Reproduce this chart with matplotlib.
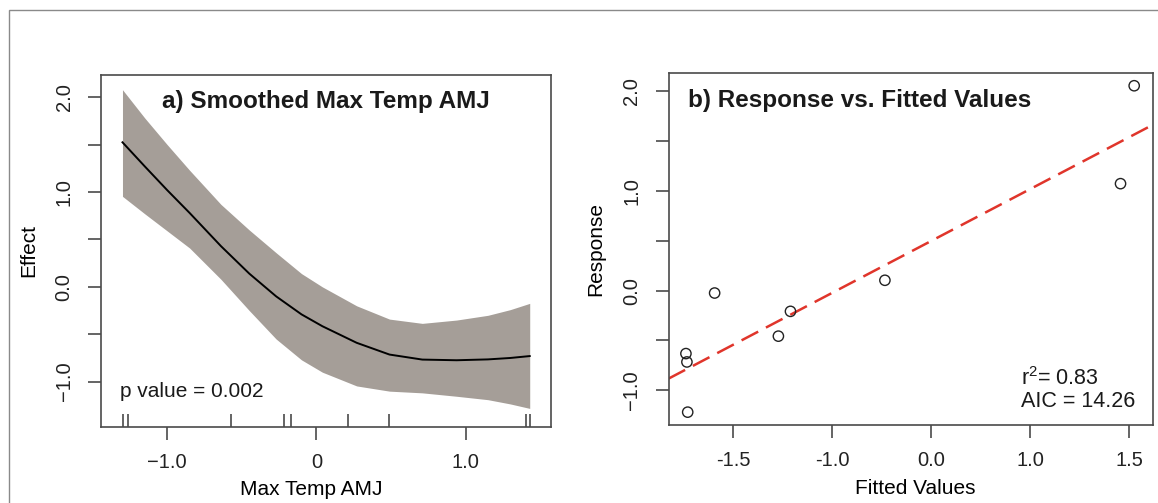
import numpy as np
import matplotlib.pyplot as plt
from matplotlib.patches import Rectangle

plt.rcParams['font.family'] = ['Liberation Sans', 'DejaVu Sans']
plt.rcParams['mathtext.fontset'] = 'custom'
plt.rcParams['mathtext.rm'] = 'Liberation Sans'

# a) smoothed effect of max temp AMJ
temp_x = [-1.30, -1.15, -1.0, -0.85, -0.64, -0.45, -0.27, -0.10, 0.04, 0.27, 0.49, 0.71, 0.94, 1.15, 1.30, 1.43]
effect_fit = [1.525, 1.27, 1.02, 0.78, 0.43, 0.14, -0.10, -0.29, -0.415, -0.59, -0.714, -0.767, -0.774,
              -0.765, -0.75, -0.73]
effect_upper = [2.08, 1.78, 1.50, 1.23, 0.87, 0.60, 0.36, 0.14, 0.0, -0.20, -0.34, -0.385, -0.35,
                -0.30, -0.24, -0.174]
effect_lower = [0.955, 0.77, 0.59, 0.41, 0.08, -0.25, -0.55, -0.77, -0.90, -1.045, -1.10, -1.118,
                -1.154, -1.19, -1.235, -1.282]
rug_x = [-1.299, -1.264, -0.571, -0.216, -0.170, 0.212, 0.490, 1.402, 1.432]

# b) response vs fitted values
fitted = [0.526, 0.457, -0.733, -1.593, -1.210, -1.271, -1.738, -1.733, -1.729]
response = [2.057, 1.074, 0.104, -0.024, -0.208, -0.457, -0.632, -0.716, -1.220]
line_intercept = 1.019
line_slope = 1.042
fitted_ticks = [-1.5, -1.0, -0.5, 0.0, 0.5]
fitted_ticklabels = ['-1.5', '-1.0', '0.0', '1.0', '1.5']

y_ticks = [-1.0, -0.5, 0.0, 0.5, 1.0, 1.5, 2.0]
y_ticklabels = ['\u22121.0', '', '0.0', '', '1.0', '', '2.0']

W, H = 1158, 503
fig = plt.figure(figsize=(W / 100, H / 100), dpi=100)


def add_px_axes(l, t, r, b):
    return fig.add_axes([l / W, 1 - b / H, (r - l) / W, (b - t) / H])


# outer frame of the original figure
fig.patches.append(Rectangle((9 / W, -0.1), 1.2, 1.1 - 10 / H, transform=fig.transFigure,
                             fill=False, ec='#8a8a8a', lw=1.0))

axA = add_px_axes(101, 75, 550.6, 426.7)
axB = add_px_axes(668.5, 73, 1152.6, 425)

axis_col = '#4a4a4a'
for ax in (axA, axB):
    for s in ax.spines.values():
        s.set_color(axis_col)
        s.set_linewidth(1.2)
    ax.tick_params(direction='out', length=9.2, width=1.2, color=axis_col,
                   labelsize=14.5, labelcolor='#222222')
    ax.tick_params(axis='x', pad=9.8)
    ax.tick_params(axis='y', pad=10.5)
    ax.set_yticks(y_ticks)
    ax.set_yticklabels(y_ticklabels)
    plt.setp(ax.get_yticklabels(), rotation=90, va='center')

# panel a
axA.fill_between(temp_x, effect_lower, effect_upper, color='#a59e98', lw=0)
axA.plot(temp_x, effect_fit, color='black', lw=1.4)
axA.vlines(rug_x, 0, 0.036, transform=axA.get_xaxis_transform(), color=axis_col, lw=1.2)
axA.set_xlim(-1.444, 1.570)
axA.set_ylim(-1.475, 2.235)
axA.set_xticks([-1.0, 0.0, 1.0])
axA.set_xticklabels(['\u22121.0', '0', '1.0'])
axA.set_xlabel('Max Temp AMJ', fontsize=15, va='center')
axA.set_ylabel('Effect', fontsize=15, va='center')
axA.xaxis.set_label_coords((311 - 101) / 449.6, -62.6 / 351.7)
axA.yaxis.set_label_coords(-72 / 449.6, 0.5)
axA.text(0.5, 1 - 26.7 / 351.7, 'a) Smoothed Max Temp AMJ', transform=axA.transAxes,
         ha='center', va='center', fontsize=17.5, fontweight='bold', color='#1a1a1a')
axA.text(19.5 / 449.6, 1 - (391.7 - 75) / 351.7, 'p value = 0.002', transform=axA.transAxes,
         ha='left', va='center', fontsize=15, color='#1a1a1a')

# panel b
axB.scatter(fitted, response, s=55, facecolors='none', edgecolors='#222222', linewidths=1.0, zorder=3)
axB.axline((0, line_intercept), slope=line_slope, color='#e0352b', lw=1.8, linestyle=(0, (7.5, 3.5)))
axB.set_xlim(-1.826, 0.619)
axB.set_ylim(-1.349, 2.185)
axB.set_xticks(fitted_ticks)
axB.set_xticklabels(fitted_ticklabels)
axB.set_xlabel('Fitted Values', fontsize=15, va='center')
axB.set_ylabel('Response', fontsize=15, va='center')
axB.xaxis.set_label_coords((915 - 668.5) / 484.1, -64 / 352)
axB.yaxis.set_label_coords(-73 / 484.1, 0.5)
axB.text(19.2 / 484.1, 1 - 27 / 352, 'b) Response vs. Fitted Values', transform=axB.transAxes,
         ha='left', va='center', fontsize=17.5, fontweight='bold', color='#1a1a1a')
axB.text((1021 - 668.5) / 484.1, 1 - (378.3 - 73) / 352, 'r$^{2}$= 0.83', transform=axB.transAxes,
         ha='left', va='center', fontsize=15.5, color='#1a1a1a')
axB.text((1021 - 668.5) / 484.1, 1 - (401.7 - 73) / 352, 'AIC = 14.26', transform=axB.transAxes,
         ha='left', va='center', fontsize=15.5, color='#1a1a1a')

fig.savefig('out.png', dpi=100, facecolor='white')
